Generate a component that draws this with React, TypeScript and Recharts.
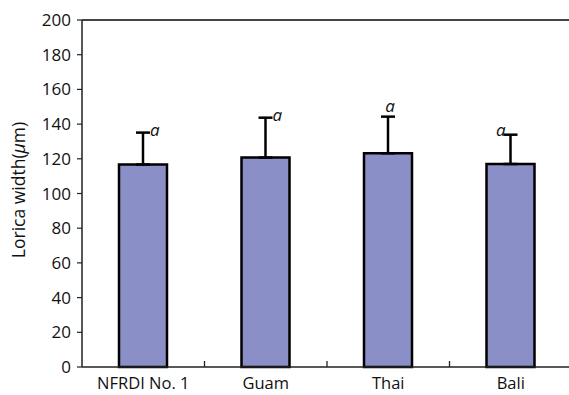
import { BarChart, Bar, XAxis, YAxis, ErrorBar, LabelList, ReferenceLine } from 'recharts';

const strains = ['NFRDI No. 1', 'Guam', 'Thai', 'Bali'];
const meanWidth = [116.7, 120.7, 123.2, 117.0];
const sdWidth = [18.4, 23.0, 21.1, 16.9];
const groupLetter = ['a', 'a', 'a', 'a'];
const letterSide = ['right', 'right', 'top', 'left'];
const yTicks = [0, 20, 40, 60, 80, 100, 120, 140, 160, 180, 200];

const data = strains.map((name, i) => ({
  name,
  width: meanWidth[i],
  sd: [0, sdWidth[i]],
}));

const FONT = '"Open Sans", sans-serif';

// tick y comes in one pixel under the axis line (tickSize 1, tickMargin 0)
function CategoryTick(props: any) {
  const { x, y, payload, index, visibleTicksCount } = props;
  const half = payload.offset ?? 0;
  const last = index === (visibleTicksCount ?? strains.length) - 1;
  const axisY = y - 1;
  return (
    <g>
      <text x={x} y={axisY + 22} textAnchor="middle" fontFamily={FONT} fontSize={16.5} fill="#111">
        {payload.value}
      </text>
      {!last && (
        <line x1={x + half} x2={x + half} y1={axisY} y2={axisY - 6} stroke="#222" strokeWidth={1.3} />
      )}
    </g>
  );
}

function LetterLabel(props: any) {
  const { x, y, width, height, index } = props;
  if (index == null) return null;
  const perUnit = height / meanWidth[index];
  const capY = y - sdWidth[index] * perUnit;
  const cx = x + width / 2;
  const side = letterSide[index];
  let tx = cx + 7;
  let ty = capY + 3;
  let anchor: 'start' | 'middle' | 'end' = 'start';
  if (side === 'top') {
    tx = cx + 2;
    ty = capY - 5;
    anchor = 'middle';
  } else if (side === 'left') {
    tx = cx - 5;
    ty = capY + 1;
    anchor = 'end';
  }
  return (
    <text x={tx} y={ty} textAnchor={anchor} fontFamily={FONT} fontStyle="italic" fontSize={17} fill="#111">
      {groupLetter[index]}
    </text>
  );
}

function YTitle() {
  return (
    <text
      x={0}
      y={0}
      transform="translate(25,190) rotate(-90)"
      textAnchor="middle"
      fontFamily={FONT}
      fontSize={17.5}
      fill="#111"
    >
      Lorica width(<tspan fontStyle="italic">μ</tspan>m)
    </text>
  );
}

export default function App() {
  return (
    <div
      style={{
        position: 'absolute',
        left: 0,
        top: 0,
        width: 569,
        height: 395,
        overflow: 'hidden',
        background: '#fff',
      }}
    >
      <BarChart
        width={600}
        height={395}
        data={data}
        margin={{ top: 20, right: 28, left: 0, bottom: 0 }}
        barSize={48}
      >
        <XAxis
          dataKey="name"
          height={28}
          tickLine={false}
          tickSize={1}
          tickMargin={0}
          axisLine={{ stroke: '#222', strokeWidth: 1.5 }}
          tick={<CategoryTick />}
          interval={0}
        />
        <YAxis
          width={82}
          domain={[0, 200]}
          ticks={yTicks}
          tickSize={5}
          tickMargin={6}
          interval={0}
          axisLine={{ stroke: '#222', strokeWidth: 1.5 }}
          tickLine={{ stroke: '#222', strokeWidth: 1.2 }}
          tick={{ fill: '#111', fontSize: 17, fontFamily: FONT }}
          label={<YTitle />}
        />
        <ReferenceLine y={200} stroke="#444" strokeWidth={2} />
        <Bar dataKey="width" fill="#8A8FC7" stroke="#000" strokeWidth={2.5} isAnimationActive={false}>
          <ErrorBar dataKey="sd" direction="y" width={7} stroke="#000" strokeWidth={2.5} />
          <LabelList dataKey="width" content={<LetterLabel />} />
        </Bar>
      </BarChart>
    </div>
  );
}
